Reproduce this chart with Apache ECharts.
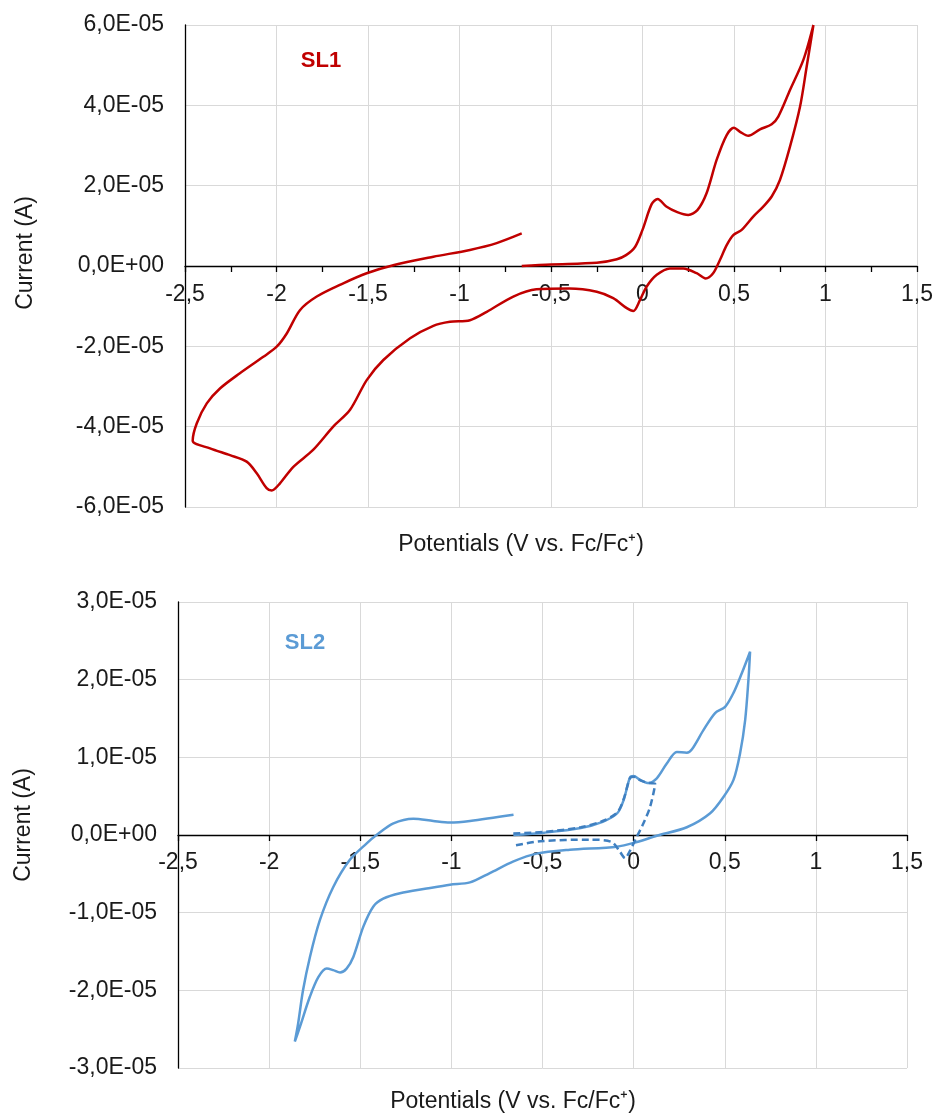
<!DOCTYPE html>
<html>
<head>
<meta charset="utf-8">
<title>Cyclic voltammograms SL1 / SL2</title>
<script src="https://cdn.jsdelivr.net/npm/echarts@6/dist/echarts.min.js"></script>
<style>
  html, body { margin: 0; padding: 0; background: #fff; }
  #main { width: 939px; height: 1115px; }
</style>
</head>
<body>
<div id="main"></div>
<script>
// potentials in V vs Fc/Fc+, currents in units of 1e-5 A
var sl1Potential = [
  -0.66, -0.5, -0.25, -0.14, -0.09, -0.04, 0.0, 0.05, 0.083, 0.13, 0.19, 0.25, 0.30, 0.35, 0.405,
  0.46, 0.50, 0.533, 0.578, 0.642, 0.706, 0.742, 0.806, 0.879, 0.934,
  0.897, 0.861, 0.806, 0.751, 0.706, 0.66, 0.605, 0.542, 0.496, 0.46, 0.423, 0.386, 0.345, 0.296,
  0.223, 0.15, 0.078, 0.023, -0.014, -0.05, -0.086, -0.16, -0.25, -0.40, -0.58, -0.706, -0.851,
  -0.943, -1.052, -1.143, -1.27, -1.416, -1.507, -1.598, -1.69, -1.80, -1.908, -1.981, -2.026,
  -2.054, -2.108, -2.163, -2.254, -2.363, -2.458,
  -2.436, -2.381, -2.309, -2.2, -2.072, -1.999, -1.944, -1.872, -1.78, -1.635, -1.507, -1.362,
  -1.143, -0.943, -0.797, -0.66
];
var sl1Current = [
  0.0, 0.04, 0.08, 0.17, 0.27, 0.48, 0.9, 1.54, 1.67, 1.48, 1.34, 1.27, 1.39, 1.81, 2.64,
  3.26, 3.44, 3.34, 3.24, 3.40, 3.53, 3.72, 4.38, 5.13, 6.0,
  4.96, 3.97, 2.97, 2.14, 1.73, 1.48, 1.23, 0.90, 0.77, 0.52, 0.15, -0.18, -0.31, -0.18,
  -0.06, -0.06, -0.22, -0.51, -0.85, -1.12, -1.05, -0.80, -0.64, -0.56, -0.58, -0.76, -1.14,
  -1.35, -1.39, -1.49, -1.80, -2.34, -2.84, -3.58, -4.0, -4.58, -5.0, -5.41, -5.59,
  -5.53, -5.16, -4.87, -4.71, -4.54, -4.35,
  -3.92, -3.42, -3.05, -2.67, -2.26, -2.01, -1.68, -1.10, -0.76, -0.43, -0.18, 0.02,
  0.23, 0.40, 0.57, 0.81
];

var sl2Potential = [
  -0.66, -0.49, -0.29, -0.17, -0.09, -0.055, -0.02, 0.0, 0.036, 0.081, 0.127, 0.182, 0.237,
  0.292, 0.319, 0.383, 0.447, 0.502, 0.548, 0.593, 0.639,
  0.630, 0.612, 0.584, 0.548, 0.493, 0.42, 0.292, 0.127, 0.018, -0.092, -0.35, -0.533, -0.659,
  -0.789, -0.898, -1.008, -1.136, -1.282, -1.374, -1.428, -1.483, -1.538, -1.575, -1.611,
  -1.648, -1.684, -1.73, -1.776, -1.831, -1.859,
  -1.841, -1.814, -1.776, -1.722, -1.648, -1.557, -1.466, -1.411, -1.318, -1.209, -1.099,
  -1.008, -0.898, -0.659
];
var sl2Current = [
  0.0, 0.03, 0.09, 0.17, 0.28, 0.45, 0.74, 0.76, 0.71, 0.67, 0.73, 0.92, 1.07,
  1.06, 1.10, 1.35, 1.57, 1.65, 1.83, 2.08, 2.36,
  2.0, 1.48, 1.05, 0.71, 0.49, 0.28, 0.10, -0.01, -0.09, -0.15, -0.19, -0.24, -0.34,
  -0.49, -0.61, -0.64, -0.69, -0.75, -0.82, -0.92, -1.18, -1.57, -1.72, -1.77,
  -1.74, -1.72, -1.83, -2.08, -2.47, -2.66,
  -2.43, -2.0, -1.57, -1.10, -0.67, -0.32, -0.11, 0.0, 0.15, 0.21, 0.18,
  0.16, 0.18, 0.26
];

// short scan of SL2 (dashed)
var sl2ShortPotential = [
  -0.66, -0.49, -0.29, -0.17, -0.09, -0.055, -0.02, 0.0, 0.04, 0.08, 0.118,
  0.09, 0.054, 0.018, -0.028, -0.046, -0.074, -0.12, -0.238, -0.513, -0.66
];
var sl2ShortCurrent = [
  0.02, 0.04, 0.10, 0.18, 0.29, 0.46, 0.73, 0.75, 0.70, 0.67, 0.66,
  0.36, 0.15, -0.02, -0.24, -0.30, -0.22, -0.09, -0.06, -0.08, -0.14
];

var xTicks = { min: -2.5, max: 1.5, step: 0.5 };
var yTicksTop = { min: -6e-5, max: 6e-5, step: 2e-5 };
var yTicksBottom = { min: -3e-5, max: 3e-5, step: 1e-5 };

var UNIT = 1e-5;

function pairs(xs, ys) {
  var out = [];
  for (var i = 0; i < xs.length; i++) {
    out.push([xs[i], ys[i] * UNIT]);
  }
  return out;
}

function sci(v) {
  if (Math.abs(v) < 1e-12) return '0,0E+00';
  var e = Math.floor(Math.log10(Math.abs(v)) + 1e-9);
  var m = v / Math.pow(10, e);
  return m.toFixed(1).replace('.', ',') + 'E' + (e < 0 ? '-' : '+') + String(Math.abs(e)).padStart(2, '0');
}

function comma(v) {
  return String(v).replace('.', ',');
}

var FONT = 'Liberation Sans, Arial, sans-serif';
var GRIDLINE = '#d9d9d9';

var gridTop = { left: 185, top: 25, width: 732, height: 482, outerBoundsMode: 'none' };
var gridBottom = { left: 178, top: 602, width: 729, height: 466, outerBoundsMode: 'none' };

// the x axis sits on the zero current line, labels right under it
function zeroOffset(grid, ticks) {
  return -grid.height * (0 - ticks.min) / (ticks.max - ticks.min);
}

function xAxisCfg(gridIndex, minor, margin, offset) {
  return {
    type: 'value',
    gridIndex: gridIndex,
    min: xTicks.min,
    max: xTicks.max,
    interval: xTicks.step,
    position: 'bottom',
    offset: offset,
    axisLine: { show: true, onZero: false, lineStyle: { color: '#000', width: 1.3 } },
    axisTick: { show: true, length: 6, lineStyle: { color: '#000', width: 1.3 } },
    minorTick: { show: minor, splitNumber: 2, length: 6, lineStyle: { color: '#000', width: 1.3 } },
    splitLine: { show: true, lineStyle: { color: GRIDLINE, width: 1 } },
    axisLabel: { fontSize: 23, color: '#1a1a1a', margin: margin, formatter: comma, showMinLabel: true, showMaxLabel: true }
  };
}

function yAxisCfg(gridIndex, ticks, gap, shift) {
  return {
    type: 'value',
    gridIndex: gridIndex,
    min: ticks.min,
    max: ticks.max,
    interval: ticks.step,
    name: 'Current (A)',
    nameLocation: 'middle',
    nameGap: gap,
    nameTextStyle: { fontSize: 23, color: '#1a1a1a', padding: [0, 0, 0, shift] },
    axisLine: { show: true, onZero: false, lineStyle: { color: '#000', width: 1.3 } },
    axisTick: { show: false },
    splitLine: { show: true, lineStyle: { color: GRIDLINE, width: 1 } },
    axisLabel: { fontSize: 23, color: '#1a1a1a', margin: 21, formatter: sci, showMinLabel: true, showMaxLabel: true }
  };
}

var chart = echarts.init(document.getElementById('main'));
chart.setOption({
  animation: false,
  backgroundColor: '#fff',
  textStyle: { fontFamily: FONT },
  grid: [gridTop, gridBottom],
  xAxis: [
    xAxisCfg(0, true, 17, zeroOffset(gridTop, yTicksTop)),
    xAxisCfg(1, false, 16, zeroOffset(gridBottom, yTicksBottom))
  ],
  yAxis: [yAxisCfg(0, yTicksTop, 148, 26), yAxisCfg(1, yTicksBottom, 143, 20)],
  graphic: [
    { type: 'text', x: 521, y: 545, style: { text: 'Potentials (V vs. Fc/Fc\u207A)', font: '23px ' + FONT, fill: '#1a1a1a', align: 'center', verticalAlign: 'middle' } },
    { type: 'text', x: 513, y: 1102, style: { text: 'Potentials (V vs. Fc/Fc\u207A)', font: '23px ' + FONT, fill: '#1a1a1a', align: 'center', verticalAlign: 'middle' } },
    { type: 'text', x: 321, y: 61, style: { text: 'SL1', font: 'bold 22px ' + FONT, fill: '#c00000', align: 'center', verticalAlign: 'middle' } },
    { type: 'text', x: 305, y: 643, style: { text: 'SL2', font: 'bold 22px ' + FONT, fill: '#5b9bd5', align: 'center', verticalAlign: 'middle' } }
  ],
  series: [
    {
      name: 'SL1',
      type: 'line',
      xAxisIndex: 0,
      yAxisIndex: 0,
      data: pairs(sl1Potential, sl1Current),
      showSymbol: false,
      smooth: 0.3,
      lineStyle: { color: '#c00000', width: 2.5 }
    },
    {
      name: 'SL2',
      type: 'line',
      xAxisIndex: 1,
      yAxisIndex: 1,
      data: pairs(sl2Potential, sl2Current),
      showSymbol: false,
      smooth: 0.3,
      lineStyle: { color: '#5b9bd5', width: 2.5 }
    },
    {
      name: 'SL2 short scan',
      type: 'line',
      xAxisIndex: 1,
      yAxisIndex: 1,
      data: pairs(sl2ShortPotential, sl2ShortCurrent),
      showSymbol: false,
      smooth: 0.3,
      lineStyle: { color: '#3f7fc0', width: 2.5, type: [7, 4] }
    }
  ]
});
</script>
</body>
</html>
